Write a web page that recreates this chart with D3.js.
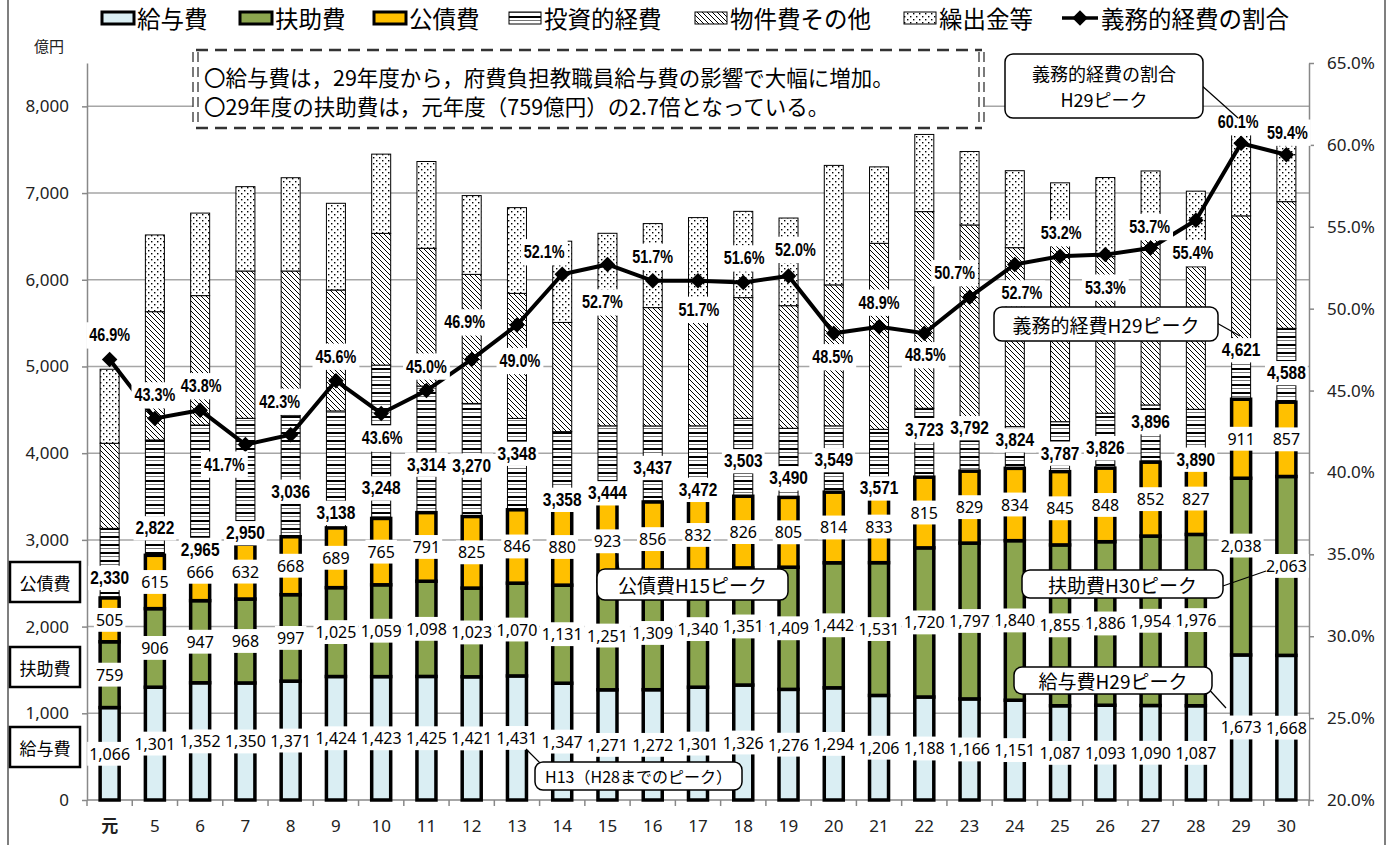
<!DOCTYPE html>
<meta charset="utf-8">
<style>
body { margin: 0; background: #fff; }
text { font-family: "Noto Sans", "Noto Sans CJK JP", sans-serif; }
.jp { font-family: "Noto Sans CJK JP", sans-serif; }
.bold { font-family: "Liberation Sans", "Arial", sans-serif; font-weight: bold; }
</style>
<body>
<script src="https://d3js.org/d3.v7.min.js"></script>
<script>

var width = 1394,
    height = 845;

// data (億円, 割合%)
var years = ["元","5","6","7","8","9","10","11","12","13","14","15","16","17","18","19","20","21","22","23","24","25","26","27","28","29","30"];
var kyuyo = [1066,1301,1352,1350,1371,1424,1423,1425,1421,1431,1347,1271,1272,1301,1326,1276,1294,1206,1188,1166,1151,1087,1093,1090,1087,1673,1668];
var fujo = [759,906,947,968,997,1025,1059,1098,1023,1070,1131,1251,1309,1340,1351,1409,1442,1531,1720,1797,1840,1855,1886,1954,1976,2038,2063];
var kousai = [505,615,666,632,668,689,765,791,825,846,880,923,856,832,826,805,814,833,815,829,834,845,848,852,827,911,857];
var toushi = [803,1330,1360,1452,1404,1349,1769,1460,1305,1054,890,870,877,842,899,797,765,705,795,608,481,576,634,660,616,579,852];
var bukken = [981,1480,1492,1699,1661,1395,1519,1589,1488,1442,1260,1406,1365,1336,1392,1414,1626,2145,2268,2232,2064,2137,1806,2044,1645,1536,1461];
var kuridashi = [854,885,952,973,1076,1000,914,1001,909,989,937,815,969,1066,995,1011,1378,882,890,847,888,618,912,655,871,953,823];
var gimuTotal = [2330,2822,2965,2950,3036,3138,3248,3314,3270,3348,3358,3444,3437,3472,3503,3490,3549,3571,3723,3792,3824,3787,3826,3896,3890,4621,4588];
var ratio = [46.9,43.3,43.8,41.7,42.3,45.6,43.6,45.0,46.9,49.0,52.1,52.7,51.7,51.7,51.6,52.0,48.5,48.9,48.5,50.7,52.7,53.2,53.3,53.7,55.4,60.1,59.4];
var leftTicks = [0,1000,2000,3000,4000,5000,6000,7000,8000];
var rightTicks = [20,25,30,35,40,45,50,55,60,65];

// label placement (pixels, as in the original chart)
var totalDy = [-20,-27,7,-11,-45,-15,-30,-48,-51,-56,-9,-8,-34,-9,-35,-19,-32,-2,-47,-43,-28,-18,-20,-40,-3,-49,-29];
var pctDx = [0,0,1,-21,-11,0,1,0,-7,3,-18,-5,0,1,1,7,-1,0,1,-15,7,1,0,-1,-3,-3,1];
var pctDy = [-24,-23,-24,20,-33,-24,25,-24,-37,36,-22,38,-24,29,-24,-26,24,-24,22,-24,29,-23,33,-21,33,-21,-22];

var svg = d3.select("body").append("svg")
    .attr("width", width)
    .attr("height", height);

var plotLeft = 87, plotRight = 1309, plotTop = 63, plotBottom = 800;

var x = d3.scaleBand().domain(years).range([plotLeft, plotRight]).paddingInner(0.58).paddingOuter(0.29);
var y = d3.scaleLinear().domain([0, 8500]).range([plotBottom, plotTop]);
var y2 = d3.scaleLinear().domain([20, 65]).range([plotBottom, plotTop]);
var step = x.step();
var cx = function(i) { return x(years[i]) + x.bandwidth() / 2; };

// patterns
var defs = svg.append("defs");
var pH = defs.append("pattern").attr("id", "pHoriz").attr("patternUnits", "userSpaceOnUse")
    .attr("width", 8).attr("height", 8);
pH.append("rect").attr("width", 8).attr("height", 8).attr("fill", "#fff");
pH.append("rect").attr("y", 0).attr("width", 8).attr("height", 2).attr("fill", "#000");
pH.append("rect").attr("y", 4).attr("width", 8).attr("height", 1).attr("fill", "#777");

var pD = defs.append("pattern").attr("id", "pDiag").attr("patternUnits", "userSpaceOnUse")
    .attr("width", 5).attr("height", 5);
pD.append("rect").attr("width", 5).attr("height", 5).attr("fill", "#fff");
pD.append("path").attr("d", "M0,0L5,5M-1,4L1,6M4,-1L6,1").attr("stroke", "#000").attr("stroke-width", 1);

var pS = defs.append("pattern").attr("id", "pDots").attr("patternUnits", "userSpaceOnUse")
    .attr("width", 6).attr("height", 6);
pS.append("rect").attr("width", 6).attr("height", 6).attr("fill", "#fff");
pS.append("rect").attr("x", 1).attr("y", 1).attr("width", 1.4).attr("height", 1.4).attr("fill", "#000");
pS.append("rect").attr("x", 4).attr("y", 4).attr("width", 1.4).attr("height", 1.4).attr("fill", "#000");

// frame
svg.append("line").attr("x1", 8).attr("x2", 8).attr("y1", 0).attr("y2", height).attr("stroke", "#555").attr("stroke-width", 1.5);
svg.append("line").attr("x1", 1385).attr("x2", 1385).attr("y1", 0).attr("y2", height).attr("stroke", "#555").attr("stroke-width", 1.5);

// gridlines
svg.append("g").selectAll("line")
    .data(leftTicks.filter(function(d) { return d > 0; }))
  .enter().append("line")
    .attr("x1", plotLeft).attr("x2", plotRight)
    .attr("y1", function(d) { return y(d); }).attr("y2", function(d) { return y(d); })
    .attr("stroke", "#a6a6a6").attr("stroke-width", 1.5);

// axes
var gl = svg.append("g").attr("transform", "translate(" + plotLeft + ",0)")
    .call(d3.axisLeft(y).tickValues(leftTicks).tickFormat(d3.format(",")).tickSize(5).tickSizeOuter(0).tickPadding(13));
var gr = svg.append("g").attr("transform", "translate(" + plotRight + ",0)")
    .call(d3.axisRight(y2).tickValues(rightTicks).tickFormat(function(d) { return d.toFixed(1) + "%"; }).tickSize(5).tickSizeOuter(0).tickPadding(13));
[gl, gr].forEach(function(g) {
  g.select(".domain").attr("stroke", "#888").attr("stroke-width", 1.5);
  g.selectAll(".tick line").attr("stroke", "#888").attr("stroke-width", 1.5);
  g.selectAll(".tick text").attr("font-size", 17).attr("fill", "#222").style("font-family", '"Noto Sans", sans-serif');
});

var gx = svg.append("g");
gx.append("line").attr("x1", plotLeft).attr("x2", plotRight).attr("y1", plotBottom).attr("y2", plotBottom).attr("stroke", "#888").attr("stroke-width", 1.5);
gx.selectAll(".bt").data(d3.range(years.length + 1)).enter().append("line")
    .attr("x1", function(i) { return plotLeft + i * step; }).attr("x2", function(i) { return plotLeft + i * step; })
    .attr("y1", plotBottom).attr("y2", plotBottom + 6).attr("stroke", "#888").attr("stroke-width", 1.5);
gx.selectAll("text").data(years).enter().append("text")
    .attr("x", function(d, i) { return cx(i); }).attr("y", 825)
    .attr("text-anchor", "middle").attr("dominant-baseline", "central")
    .attr("font-size", 17).attr("fill", "#222")
    .attr("font-weight", function(d) { return d === "元" ? "bold" : null; })
    .text(function(d) { return d; });

svg.append("text").attr("class", "jp").attr("x", 49).attr("y", 45).attr("text-anchor", "middle")
    .attr("dominant-baseline", "central").attr("font-size", 15).attr("fill", "#222").text("億円");

// stacked bars
var series = [
  {name: "給与費", values: kyuyo, fill: "#daeef3", thick: true},
  {name: "扶助費", values: fujo, fill: "#8ca64f", thick: true},
  {name: "公債費", values: kousai, fill: "#ffc000", thick: true},
  {name: "投資的経費", values: toushi, fill: "url(#pHoriz)", thick: false},
  {name: "物件費その他", values: bukken, fill: "url(#pDiag)", thick: false},
  {name: "繰出金等", values: kuridashi, fill: "url(#pDots)", thick: false}
];
var base = years.map(function() { return 0; });
series.forEach(function(s) {
  s.y0 = base.slice();
  s.y1 = base.map(function(b, i) { return b + s.values[i]; });
  base = s.y1;
});

var drawOrder = [3, 4, 5, 0, 1, 2];
var barG = svg.append("g");
drawOrder.forEach(function(k) {
  var s = series[k];
  barG.append("g").selectAll("rect").data(years).enter().append("rect")
      .attr("x", function(d) { return x(d); })
      .attr("width", x.bandwidth())
      .attr("y", function(d, i) { return y(s.y1[i]); })
      .attr("height", function(d, i) { return y(s.y0[i]) - y(s.y1[i]); })
      .attr("fill", s.fill)
      .attr("stroke", "#000")
      .attr("stroke-width", s.thick ? 3.5 : 1);
});

// ratio line
var line = d3.line().x(function(d, i) { return cx(i); }).y(function(d) { return y2(d); });
svg.append("path").datum(ratio).attr("d", line).attr("fill", "none").attr("stroke", "#000").attr("stroke-width", 4);
var diamond = d3.symbol().type(d3.symbolSquare).size(120);
svg.append("g").selectAll("path").data(ratio).enter().append("path")
    .attr("d", diamond)
    .attr("transform", function(d, i) { return "translate(" + cx(i) + "," + y2(d) + ") rotate(45)"; })
    .attr("fill", "#000");

// labels with white boxes
function boxLabel(g, px, py, str, size, cls, padX, padY, squeeze) {
  var lg = g.append("g");
  var r = lg.append("rect").attr("fill", "#fff");
  var t = lg.append("text").attr("x", px).attr("y", py)
      .attr("text-anchor", "middle").attr("dominant-baseline", "central")
      .attr("font-size", size).attr("fill", "#000").text(str);
  if (cls) t.attr("class", cls);
  var bb = t.node().getBBox();
  if (squeeze) {
    t.attr("textLength", bb.width * squeeze).attr("lengthAdjust", "spacingAndGlyphs");
    bb = t.node().getBBox();
  }
  r.attr("x", bb.x - padX).attr("y", py - size * 0.62 - padY)
   .attr("width", bb.width + 2 * padX).attr("height", size * 1.24 + 2 * padY);
  return lg;
}

var labG = svg.append("g");
var fmt = d3.format(",");
[0, 1, 2].forEach(function(k) {
  var s = series[k];
  years.forEach(function(d, i) {
    var py = y((s.y0[i] + s.y1[i]) / 2);
    if (k === 1 && i === 25) py -= 21;
    boxLabel(labG, cx(i), py, fmt(s.values[i]), 16, null, 2, 2);
  });
});

years.forEach(function(d, i) {
  boxLabel(labG, cx(i), y(series[2].y1[i]) + totalDy[i], fmt(gimuTotal[i]), 18, "bold", 2, 1, 0.86);
});

ratio.forEach(function(d, i) {
  boxLabel(labG, cx(i) + pctDx[i], y2(d) + pctDy[i], d.toFixed(1) + "%", 18, "bold", 3, 2, 0.8);
});

// left side labels
var sideLabels = [{t: "公債費", y: 582}, {t: "扶助費", y: 667}, {t: "給与費", y: 747}];
sideLabels.forEach(function(s) {
  svg.append("rect").attr("x", 10).attr("y", s.y - 20).attr("width", 70).attr("height", 40)
      .attr("fill", "#fff").attr("stroke", "#000").attr("stroke-width", 2.5);
  svg.append("text").attr("class", "jp").attr("x", 45).attr("y", s.y).attr("text-anchor", "middle")
      .attr("dominant-baseline", "central").attr("font-size", 17).text(s.t);
});

// callouts
function callout(bx, by, bw, bh, lines, size, leader) {
  var g = svg.append("g");
  g.append("line").attr("x1", leader[0]).attr("y1", leader[1]).attr("x2", leader[2]).attr("y2", leader[3])
      .attr("stroke", "#000").attr("stroke-width", 1.2);
  g.append("rect").attr("x", bx).attr("y", by).attr("width", bw).attr("height", bh)
      .attr("rx", 8).attr("fill", "#fff").attr("stroke", "#000").attr("stroke-width", 1.5);
  lines.forEach(function(l, j) {
    g.append("text").attr("class", "jp").attr("x", bx + bw / 2)
        .attr("y", by + bh / 2 + (j - (lines.length - 1) / 2) * 26)
        .attr("text-anchor", "middle").attr("dominant-baseline", "central")
        .attr("font-size", size).attr("fill", "#000").text(l);
  });
}
callout(1005, 54, 198, 64, ["義務的経費の割合", "H29ピーク"], 18, [1200, 84, 1238, 118]);
callout(994, 307, 224, 34, ["義務的経費H29ピーク"], 19, [1215, 322, 1240, 336]);
callout(597, 569, 191, 31, ["公債費H15ピーク"], 19, [620, 575, 616, 553]);
callout(1022, 570, 201, 28, ["扶助費H30ピーク"], 19, [1220, 587, 1266, 571]);
callout(1014, 667, 198, 27, ["給与費H29ピーク"], 19, [1205, 685, 1226, 708]);
callout(535, 762, 207, 28, ["H13（H28までのピーク）"], 16, [545, 768, 526, 749]);

// note box
var note = svg.append("g");
note.append("rect").attr("x", 193).attr("y", 50).attr("width", 792).attr("height", 78).attr("fill", "#fff");
[50, 128].forEach(function(yy) {
  note.append("line").attr("x1", 196).attr("x2", 982).attr("y1", yy).attr("y2", yy)
      .attr("stroke", "#333").attr("stroke-width", 2.5).attr("stroke-dasharray", "12,7");
});
[193, 198, 979, 984].forEach(function(xx) {
  note.append("line").attr("x1", xx).attr("x2", xx).attr("y1", 52).attr("y2", 126)
      .attr("stroke", "#333").attr("stroke-width", 1.3).attr("stroke-dasharray", "10,5");
});
note.append("text").attr("class", "jp").attr("x", 204).attr("y", 76).attr("dominant-baseline", "central")
    .attr("font-size", 21.5).text("〇給与費は，29年度から，府費負担教職員給与費の影響で大幅に増加。");
note.append("text").attr("class", "jp").attr("x", 204).attr("y", 105).attr("dominant-baseline", "central")
    .attr("font-size", 21.5).text("〇29年度の扶助費は，元年度（759億円）の2.7倍となっている。");

// legend
var legendX = [100, 238, 372, 507, 693, 902, 1060];
var legG = svg.append("g");
series.forEach(function(s, k) {
  var lx = legendX[k];
  legG.append("rect").attr("x", lx + 2).attr("y", 12).attr("width", 32).attr("height", 12)
      .attr("fill", s.fill).attr("stroke", "#000").attr("stroke-width", s.thick ? 3 : 1);
  legG.append("text").attr("class", "jp").attr("x", lx + 37).attr("y", 18).attr("dominant-baseline", "central")
      .attr("font-size", 23.5).text(s.name);
});
legG.append("line").attr("x1", 1062).attr("x2", 1098).attr("y1", 18).attr("y2", 18).attr("stroke", "#000").attr("stroke-width", 3.5);
legG.append("path").attr("d", diamond).attr("transform", "translate(1080,18) rotate(45)").attr("fill", "#000");
legG.append("text").attr("class", "jp").attr("x", 1101).attr("y", 18).attr("dominant-baseline", "central")
    .attr("font-size", 23.5).text("義務的経費の割合");

</script>
